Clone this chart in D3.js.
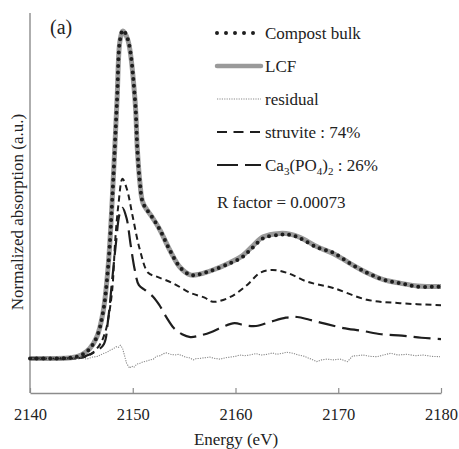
<!DOCTYPE html>
<html>
<head>
<meta charset="utf-8">
<script src="https://cdn.jsdelivr.net/npm/d3@7"></script>
<style>
  body { margin: 0; background: #fff; }
  svg { display: block; }
  svg text { font-family: "Liberation Serif", "DejaVu Serif", serif; }
</style>
</head>
<body>
<div id="chartContainer"></div>
<script>
// Data: [energy eV, normalized absorption]
const compost = [
  [2140, 0], [2142, 0], [2144, 0.01], [2145, 0.05], [2145.8, 0.14], [2146.5, 0.31],
  [2147.1, 0.66], [2147.6, 1.32], [2148.0, 2.29], [2148.47, 3.74], [2148.76, 4.61],
  [2149.05, 4.75], [2149.54, 4.61], [2150.22, 3.74], [2150.45, 3.02], [2150.7, 2.54],
  [2151.0, 2.25], [2151.87, 2.05], [2152.65, 1.86], [2153.6, 1.57], [2154.6, 1.32],
  [2155.6, 1.21], [2156.5, 1.22], [2157.8, 1.28], [2159.5, 1.38], [2160.7, 1.47],
  [2161.7, 1.61], [2162.7, 1.74], [2164.3, 1.79], [2165.3, 1.79], [2166.3, 1.74],
  [2167.9, 1.61], [2169.5, 1.53], [2171.1, 1.38], [2172.8, 1.24], [2174.4, 1.14],
  [2176, 1.09], [2177.7, 1.04], [2180, 1.04]
];

const lcf = [
  [2140, 0], [2142, 0], [2144, 0.01], [2145, 0.05], [2145.8, 0.14], [2146.5, 0.31],
  [2147.1, 0.66], [2147.6, 1.32], [2148.0, 2.29], [2148.47, 3.74], [2148.76, 4.6],
  [2149.05, 4.74], [2149.54, 4.6], [2150.22, 3.74], [2150.45, 3.02], [2150.7, 2.54],
  [2151.0, 2.25], [2151.87, 2.05], [2152.65, 1.86], [2153.6, 1.57], [2154.6, 1.32],
  [2155.6, 1.21], [2156.5, 1.22], [2157.8, 1.28], [2159.5, 1.39], [2160.7, 1.49],
  [2161.7, 1.63], [2162.7, 1.76], [2164.3, 1.81], [2165.3, 1.8], [2166.3, 1.75],
  [2167.9, 1.62], [2169.5, 1.52], [2171.1, 1.38], [2172.8, 1.24], [2174.4, 1.14],
  [2176, 1.09], [2177.7, 1.05], [2180, 1.04]
];

const residual = [
  [2140, 0], [2143, 0.01], [2144, 0], [2144.9, 0.01], [2145.5, -0.01], [2146.1, 0.02],
  [2146.6, 0.03], [2147.1, 0.07], [2147.5, 0.09], [2147.8, 0.12], [2148.1, 0.14],
  [2148.4, 0.17], [2148.6, 0.16], [2148.8, 0.19], [2149.0, 0.15], [2149.15, 0.07],
  [2149.4, -0.07], [2149.7, -0.14], [2149.9, -0.11], [2150.1, -0.13], [2150.4, -0.08],
  [2150.7, -0.07], [2151.0, -0.05], [2151.3, -0.04], [2151.7, -0.02], [2152.0, -0.01],
  [2152.3, 0.03], [2152.65, 0.04], [2153.0, 0.07], [2153.3, 0.08], [2153.7, 0.06],
  [2154.1, 0.05], [2154.5, 0.06], [2155.1, 0.02], [2155.5, 0.01], [2155.9, -0.02],
  [2156.2, 0], [2156.5, 0], [2157.0, 0.01], [2157.5, 0.02], [2158.0, 0], [2158.5, -0.01],
  [2159.0, 0.01], [2159.5, 0.02], [2160.0, 0.03], [2160.4, 0.05], [2160.9, 0.04],
  [2161.4, 0.05], [2162.0, 0.07], [2162.5, 0.05], [2163.1, 0.06], [2163.6, 0.08],
  [2164.0, 0.06], [2164.6, 0.075], [2165.0, 0.09], [2165.6, 0.075], [2166.1, 0.05],
  [2166.6, 0.036], [2167.2, 0], [2167.9, -0.046], [2168.4, -0.02], [2168.9, -0.01],
  [2169.5, -0.02], [2170.2, -0.01], [2170.9, -0.046], [2171.4, 0.036], [2171.9, 0.04],
  [2172.4, 0.05], [2173.1, 0.03], [2173.8, 0.026], [2174.4, 0.05], [2175.1, 0.075],
  [2175.8, 0.05], [2176.7, 0.06], [2177.5, 0.04], [2178.3, 0.05], [2179.1, 0.03],
  [2179.9, 0.026]
];

const struvite = [
  [2140, 0], [2143, 0], [2145, 0.01], [2146, 0.07], [2146.8, 0.2], [2147.3, 0.37],
  [2147.6, 0.56], [2148.0, 0.99], [2148.3, 1.72], [2148.6, 2.22], [2149.0, 2.6],
  [2149.45, 2.44], [2150.0, 2.05], [2150.7, 1.57], [2151.5, 1.24], [2152.4, 1.18],
  [2153.9, 1.09], [2155.6, 0.95], [2157.0, 0.88], [2157.8, 0.82], [2159.5, 0.89],
  [2161.1, 1.06], [2162.4, 1.24], [2163.55, 1.28], [2165.0, 1.24], [2167.0, 1.11],
  [2169.5, 1.02], [2172.8, 0.85], [2176.0, 0.8], [2180, 0.77]
];

const caPhosphate = [
  [2140, 0], [2143, 0], [2145, 0.01], [2145.5, 0.04], [2146.5, 0.11], [2147.2, 0.21],
  [2147.6, 0.56], [2148.0, 1.14], [2148.4, 1.72], [2148.7, 2.08], [2149.0, 2.18],
  [2149.4, 2.03], [2149.8, 1.64], [2150.2, 1.28], [2150.6, 1.06], [2151.2, 0.99],
  [2152.0, 0.89], [2152.6, 0.77], [2153.3, 0.59], [2154.0, 0.44], [2154.8, 0.35],
  [2155.6, 0.31], [2156.5, 0.33], [2157.6, 0.38], [2158.8, 0.46], [2159.9, 0.51],
  [2160.9, 0.48], [2162.0, 0.47], [2163.4, 0.53], [2164.9, 0.59], [2166.0, 0.6],
  [2167.2, 0.56], [2168.8, 0.5], [2170.5, 0.44], [2172.3, 0.4], [2174.2, 0.35],
  [2176.2, 0.33], [2178.1, 0.3], [2180, 0.28]
];

const xTicks = [2140, 2150, 2160, 2170, 2180];

// Dimensioner
const w = 459;
const h = 449;

const svg = d3.select("#chartContainer")
  .append("svg")
  .attr("width", w)
  .attr("height", h);

const xScale = d3.scaleLinear().domain([2140, 2180]).range([30, 441]);
const yScale = d3.scaleLinear().domain([-0.5, 5]).range([393, 13]);

const smooth = d3.line()
  .x(d => xScale(d[0]))
  .y(d => yScale(d[1]))
  .curve(d3.curveCatmullRom.alpha(0.5));

const jagged = d3.line()
  .x(d => xScale(d[0]))
  .y(d => yScale(d[1]));

// Akser
const xAxis = d3.axisBottom(xScale)
  .tickValues(xTicks)
  .tickFormat(d3.format("d"))
  .tickSizeInner(-5)
  .tickSizeOuter(0)
  .tickPadding(15);

const gx = svg.append("g")
  .attr("transform", `translate(0, ${yScale(-0.5)})`)
  .call(xAxis)
  .attr("font-family", null);
gx.select(".domain").attr("stroke", "#8c8c8c").attr("stroke-width", 1.4);
gx.selectAll(".tick line").attr("stroke", "#8c8c8c").attr("stroke-width", 1.2);
gx.selectAll(".tick text")
  .attr("font-size", 16.5)
  .attr("fill", "#222");

svg.append("line")
  .attr("x1", xScale(2140)).attr("x2", xScale(2140))
  .attr("y1", yScale(5)).attr("y2", yScale(-0.5))
  .attr("stroke", "#8c8c8c")
  .attr("stroke-width", 1.4);

// Kurver
svg.append("path")
  .datum(lcf)
  .attr("d", smooth)
  .attr("fill", "none")
  .attr("stroke", "#9a9a9a")
  .attr("stroke-width", 5);

svg.append("path")
  .datum(struvite)
  .attr("d", smooth)
  .attr("fill", "none")
  .attr("stroke", "#1e1e1e")
  .attr("stroke-width", 2)
  .attr("stroke-dasharray", "6 4");

svg.append("path")
  .datum(caPhosphate)
  .attr("d", smooth)
  .attr("fill", "none")
  .attr("stroke", "#1e1e1e")
  .attr("stroke-width", 2.2)
  .attr("stroke-dasharray", "17 7");

svg.append("path")
  .datum(residual)
  .attr("d", jagged)
  .attr("fill", "none")
  .attr("stroke", "#8a8a8a")
  .attr("stroke-width", 1.1)
  .attr("stroke-dasharray", "1.2 1.2");

svg.append("path")
  .datum(compost)
  .attr("d", smooth)
  .attr("fill", "none")
  .attr("stroke", "#1e1e1e")
  .attr("stroke-width", 4)
  .attr("stroke-linecap", "round")
  .attr("stroke-dasharray", "0 6.7");

// Legende
const legend = [
  { label: "Compost bulk", stroke: "#1e1e1e", width: 4, dash: "0 9", cap: "round" },
  { label: "LCF", stroke: "#9a9a9a", width: 4.5, dash: null, cap: "round" },
  { label: "residual", stroke: "#8a8a8a", width: 1.1, dash: "1.2 1.2", cap: "butt" },
  { label: "struvite : 74%", stroke: "#1e1e1e", width: 2, dash: "10 6.5", cap: "butt" },
  { label: "ca", stroke: "#1e1e1e", width: 2.2, dash: "21 7", cap: "butt" }
];

const lg = svg.append("g");
legend.forEach((d, i) => {
  const y = 33 + i * 33;
  lg.append("line")
    .attr("x1", 217).attr("x2", 261)
    .attr("y1", y).attr("y2", y)
    .attr("stroke", d.stroke)
    .attr("stroke-width", d.width)
    .attr("stroke-linecap", d.cap)
    .attr("stroke-dasharray", d.dash);

  const t = lg.append("text")
    .attr("x", 265)
    .attr("y", y + 5.5)
    .attr("font-size", 17)
    .attr("fill", "#222");
  if (d.label === "ca") {
    t.append("tspan").text("Ca");
    t.append("tspan").attr("font-size", 11).attr("dy", 4).text("3");
    t.append("tspan").attr("dy", -4).text("(PO");
    t.append("tspan").attr("font-size", 11).attr("dy", 4).text("4");
    t.append("tspan").attr("dy", -4).text(")");
    t.append("tspan").attr("font-size", 11).attr("dy", 4).text("2");
    t.append("tspan").attr("dy", -4).text(" : 26%");
  } else {
    t.text(d.label);
  }
});

lg.append("text")
  .attr("x", 217)
  .attr("y", 207.5)
  .attr("font-size", 17)
  .attr("fill", "#222")
  .text("R factor = 0.00073");

// Titler
svg.append("text")
  .attr("x", 50)
  .attr("y", 34)
  .attr("font-size", 20)
  .attr("fill", "#222")
  .text("(a)");

svg.append("text")
  .attr("x", 236)
  .attr("y", 445)
  .attr("text-anchor", "middle")
  .attr("font-size", 17)
  .attr("fill", "#222")
  .text("Energy (eV)");

svg.append("text")
  .attr("transform", "rotate(-90)")
  .attr("x", -212)
  .attr("y", 23)
  .attr("text-anchor", "middle")
  .attr("font-size", 17)
  .attr("fill", "#222")
  .text("Normalized absorption (a.u.)");
</script>
</body>
</html>
